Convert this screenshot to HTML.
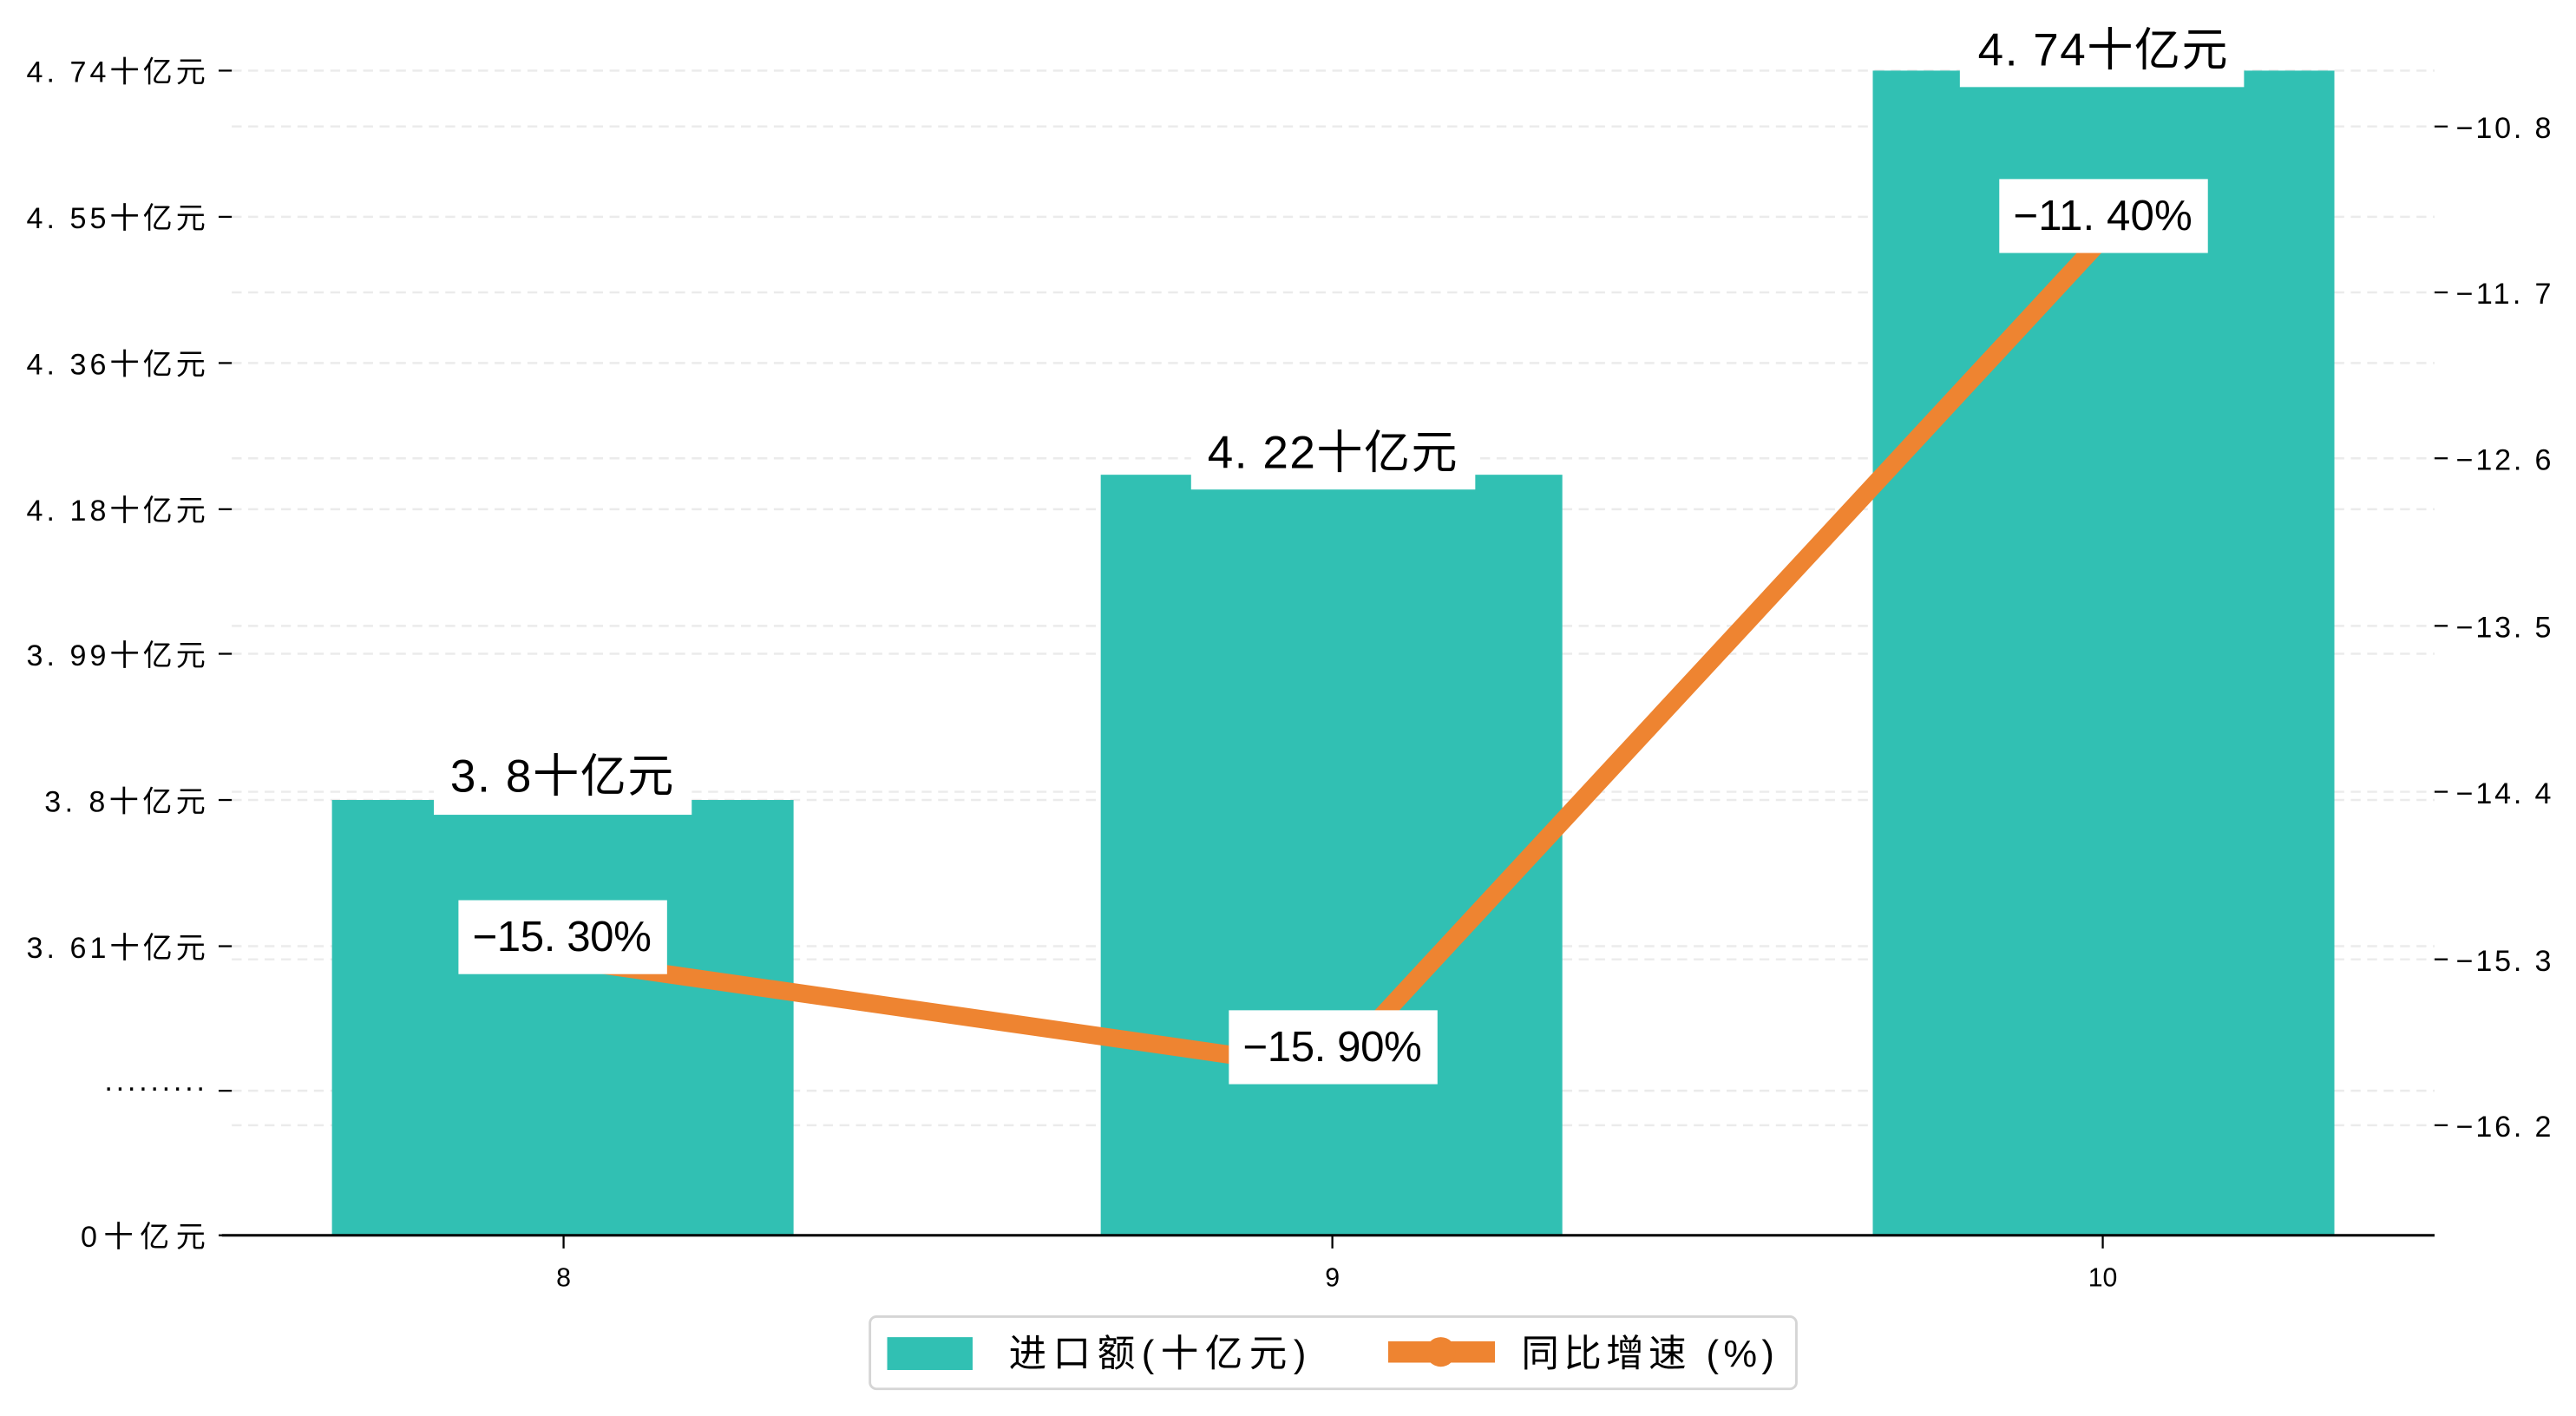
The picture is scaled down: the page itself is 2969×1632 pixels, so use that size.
<!DOCTYPE html>
<html><head><meta charset="utf-8"><style>
html,body{margin:0;padding:0;background:#fff;}
svg{display:block;}
text{font-family:"Liberation Sans","WenQuanYi Zen Hei",sans-serif;fill:#000;}
</style></head><body>
<svg width="2969" height="1632" viewBox="0 0 1568 862" xmlns="http://www.w3.org/2000/svg">
<g stroke="#ebebeb" stroke-width="1.3" stroke-dasharray="6,4">
<line x1="141" x2="1482" y1="43" y2="43"/><line x1="141" x2="1482" y1="132" y2="132"/>
<line x1="141" x2="1482" y1="221" y2="221"/><line x1="141" x2="1482" y1="310" y2="310"/>
<line x1="141" x2="1482" y1="398" y2="398"/><line x1="141" x2="1482" y1="487" y2="487"/>
<line x1="141" x2="1482" y1="576" y2="576"/><line x1="141" x2="1482" y1="664" y2="664"/>
<line x1="141" x2="1482" y1="77" y2="77"/><line x1="141" x2="1482" y1="178" y2="178"/>
<line x1="141" x2="1482" y1="279" y2="279"/><line x1="141" x2="1482" y1="381" y2="381"/>
<line x1="141" x2="1482" y1="482" y2="482"/><line x1="141" x2="1482" y1="584" y2="584"/>
<line x1="141" x2="1482" y1="685" y2="685"/>
</g>
<g fill="#31c0b3">
<rect x="202" y="487" width="281" height="265"/>
<rect x="670" y="289" width="281" height="463"/>
<rect x="1140" y="43" width="281" height="709"/>
</g>
<line x1="135" x2="1482" y1="752" y2="752" stroke="#000" stroke-width="1.6"/>
<g stroke="#000" stroke-width="1.2">
<line x1="133" x2="141" y1="43" y2="43"/><line x1="133" x2="141" y1="132" y2="132"/>
<line x1="133" x2="141" y1="221" y2="221"/><line x1="133" x2="141" y1="310" y2="310"/>
<line x1="133" x2="141" y1="398" y2="398"/><line x1="133" x2="141" y1="487" y2="487"/>
<line x1="133" x2="141" y1="576" y2="576"/><line x1="133" x2="141" y1="664" y2="664"/>
<line x1="133" x2="141" y1="752" y2="752"/>
<line x1="1482" x2="1490" y1="77" y2="77"/><line x1="1482" x2="1490" y1="178" y2="178"/>
<line x1="1482" x2="1490" y1="279" y2="279"/><line x1="1482" x2="1490" y1="381" y2="381"/>
<line x1="1482" x2="1490" y1="482" y2="482"/><line x1="1482" x2="1490" y1="584" y2="584"/>
<line x1="1482" x2="1490" y1="685" y2="685"/>
<line x1="343" x2="343" y1="752" y2="760"/><line x1="811" x2="811" y1="752" y2="760"/><line x1="1280" x2="1280" y1="752" y2="760"/>
</g>
<g font-size="18" text-anchor="end">
<text x="125" y="50" textLength="109">4. 74十亿元</text>
<text x="125" y="139" textLength="109">4. 55十亿元</text>
<text x="125" y="228" textLength="109">4. 36十亿元</text>
<text x="125" y="317" textLength="109">4. 18十亿元</text>
<text x="125" y="405" textLength="109">3. 99十亿元</text>
<text x="125" y="494" textLength="98">3. 8十亿元</text>
<text x="125" y="583" textLength="109">3. 61十亿元</text>
<text x="125" y="668" textLength="62">·········</text>
<text x="125" y="759" textLength="76">0十亿元</text>
</g>
<g font-size="18">
<text x="1495" y="84" textLength="58">−10. 8</text>
<text x="1495" y="185" textLength="58">−11. 7</text>
<text x="1495" y="286" textLength="58">−12. 6</text>
<text x="1495" y="388" textLength="58">−13. 5</text>
<text x="1495" y="489" textLength="58">−14. 4</text>
<text x="1495" y="591" textLength="58">−15. 3</text>
<text x="1495" y="692" textLength="58">−16. 2</text>
</g>
<g font-size="16" text-anchor="middle">
<text x="343" y="783">8</text><text x="811" y="783">9</text><text x="1280" y="783">10</text>
</g>
<polyline points="343,584 811,651 1280,145" fill="none" stroke="#ee8431" stroke-width="11" stroke-linejoin="round"/>
<g fill="#fff">
<rect x="264" y="455" width="157" height="41"/>
<rect x="725" y="258" width="173" height="40"/>
<rect x="1193" y="15" width="173" height="38"/>
<rect x="279" y="548" width="127" height="45"/>
<rect x="748" y="615" width="127" height="45"/>
<rect x="1217" y="109" width="127" height="45"/>
</g>
<g font-size="28" text-anchor="middle">
<text x="342" y="482" textLength="136">3. 8十亿元</text>
<text x="811" y="285" textLength="152">4. 22十亿元</text>
<text x="1280" y="40" textLength="152">4. 74十亿元</text>
</g>
<g font-size="26" text-anchor="middle">
<text x="342" y="579" textLength="109">−15. 30%</text>
<text x="811" y="646" textLength="109">−15. 90%</text>
<text x="1280" y="140" textLength="109">−11. 40%</text>
</g>
<rect x="529.5" y="801.5" width="564" height="44" rx="4" fill="#fff" stroke="#d5d5d5" stroke-width="1.5"/>
<rect x="540" y="814" width="52" height="20" fill="#31c0b3"/>
<line x1="845" x2="910" y1="823" y2="823" stroke="#ee8431" stroke-width="13"/>
<circle cx="877" cy="823" r="9" fill="#ee8431"/>
<g font-size="23">
<text x="614" y="832" textLength="181">进口额(十亿元)</text>
<text x="926" y="832" textLength="154">同比增速 (%)</text>
</g>
</svg>
</body></html>
